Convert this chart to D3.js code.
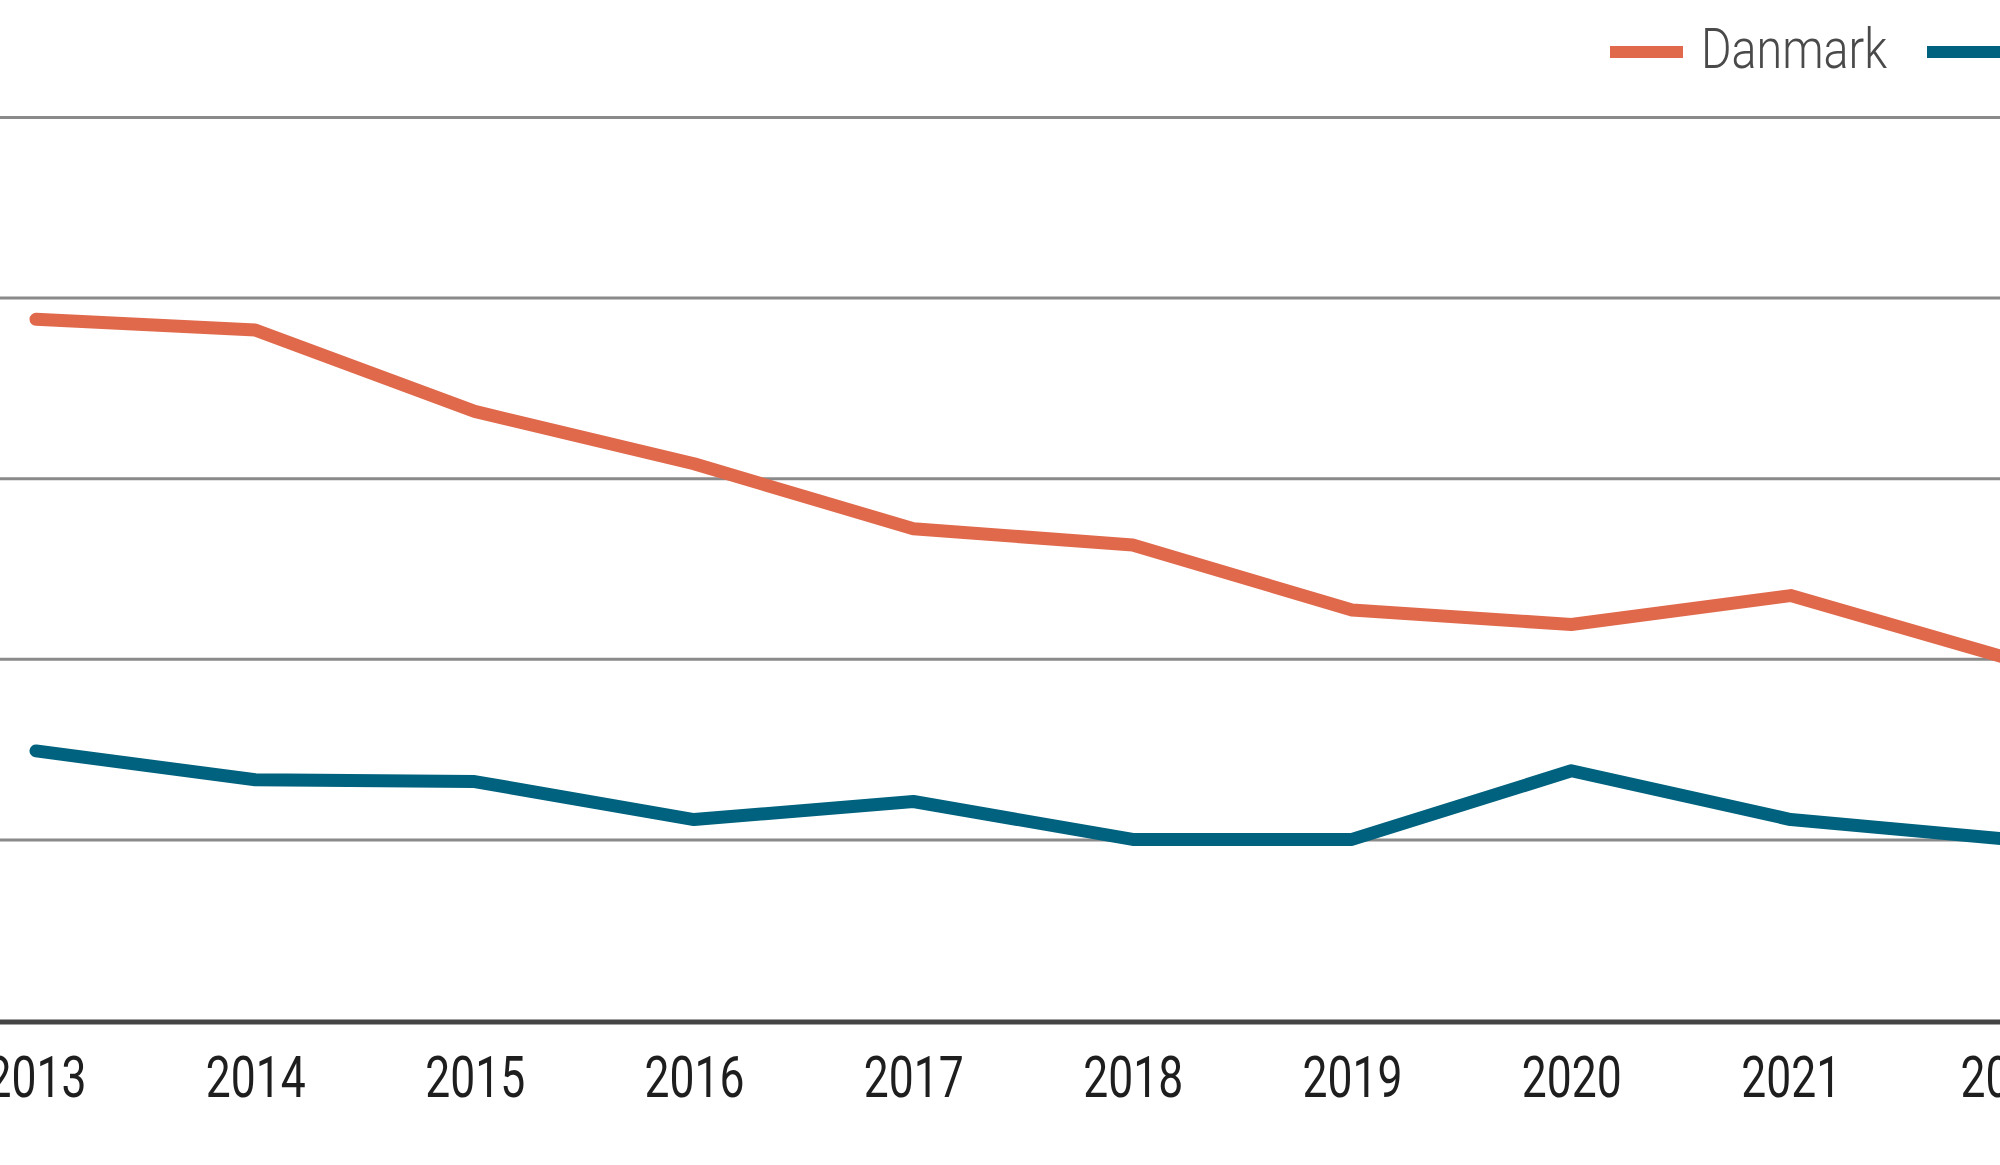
<!DOCTYPE html>
<html>
<head>
<meta charset="utf-8">
<script src="https://cdn.jsdelivr.net/npm/d3@7"></script>
<style>
  html, body { margin: 0; padding: 0; background: #fff; }
  svg { display: block; }
</style>
</head>
<body>
<svg id="chart"></svg>
<script>
// values (y axis labels are cropped off)
const years = [2013, 2014, 2015, 2016, 2017, 2018, 2019, 2020, 2021, 2022];
const danmark = [3.88, 3.82, 3.37, 3.08, 2.72, 2.63, 2.27, 2.19, 2.35, 2.0];
const other = [1.49, 1.33, 1.32, 1.11, 1.21, 1.0, 1.0, 1.38, 1.11, 1.0];
const seriesNames = ['Danmark', 'EU'];
const seriesColors = ['#e0694b', '#00627e'];
const yTicks = [1, 2, 3, 4, 5];

const width = 2000;
const height = 1165;
// no condensed face installed, so Roboto squeezed with textLength
const font = 'Roboto, sans-serif';

const svg = d3.select('#chart')
  .attr('width', width)
  .attr('height', height);

const x = d3.scaleLinear()
  .domain([2013, 2022])
  .range([36, 2010]);

const y = d3.scaleLinear()
  .domain([0, 5])
  .range([1020, 117]);

// gridlines
svg.append('g')
  .call(d3.axisLeft(y).tickValues(yTicks).tickSize(-width).tickFormat(''))
  .call((g) => g.select('.domain').remove())
  .call((g) => g.selectAll('line')
    .attr('stroke', '#8a8a8a')
    .attr('stroke-width', 3));

// baseline
svg.append('line')
  .attr('x1', 0)
  .attr('x2', width)
  .attr('y1', y(0) + 2)
  .attr('y2', y(0) + 2)
  .attr('stroke', '#444')
  .attr('stroke-width', 5);

// year labels
svg.append('g')
  .attr('transform', `translate(0, ${y(0)})`)
  .call(d3.axisBottom(x).tickValues(years).tickSize(0).tickPadding(0).tickFormat(d3.format('d')))
  .call((g) => g.select('.domain').remove())
  .call((g) => g.selectAll('text')
    .attr('dy', null)
    .attr('y', 77)
    .attr('fill', '#1e1e1e')
    .attr('font-family', font)
    .attr('font-size', 58)
    .attr('textLength', 100)
    .attr('lengthAdjust', 'spacingAndGlyphs'));

const line = d3.line()
  .x((d, i) => x(years[i]))
  .y((d) => y(d));

svg.append('g')
  .selectAll('path')
  .data([danmark, other])
  .enter()
  .append('path')
  .attr('d', (d) => line(d))
  .attr('fill', 'none')
  .attr('stroke', (d, i) => seriesColors[i])
  .attr('stroke-width', 13)
  .attr('stroke-linejoin', 'round')
  .attr('stroke-linecap', 'round');

// legend
const legend = svg.append('g')
  .selectAll('g')
  .data(seriesNames)
  .enter()
  .append('g')
  .attr('transform', (d, i) => `translate(${1610 + i * 317}, 0)`);

legend.append('rect')
  .attr('x', 0)
  .attr('y', 46)
  .attr('width', 73)
  .attr('height', 12)
  .attr('fill', (d, i) => seriesColors[i]);

legend.append('text')
  .attr('x', 91)
  .attr('y', 68)
  .attr('fill', '#4a4a4a')
  .attr('font-family', font)
  .attr('font-weight', 300)
  .attr('font-size', 56)
  .attr('textLength', (d) => d.length * 26.6)
  .attr('lengthAdjust', 'spacingAndGlyphs')
  .text((d) => d);
</script>
</body>
</html>
